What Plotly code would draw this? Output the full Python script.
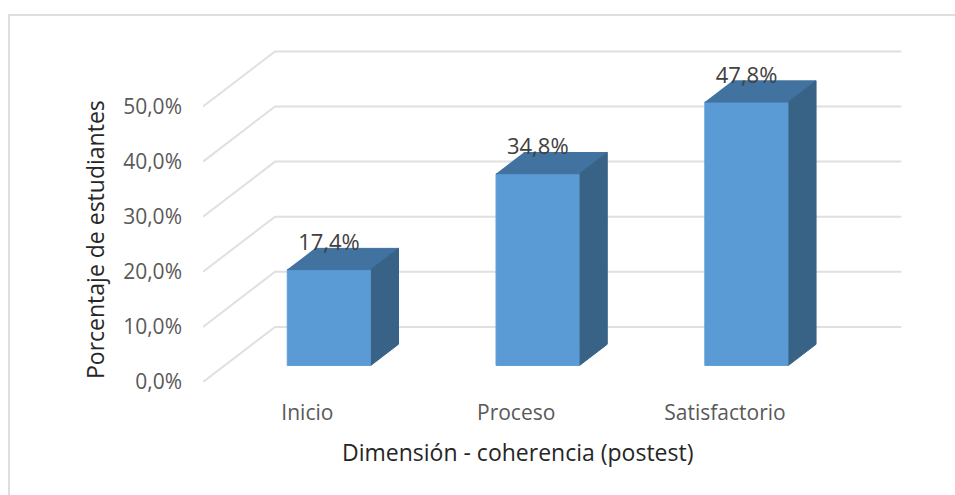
import plotly.graph_objects as go

categorias = ["Inicio", "Proceso", "Satisfactorio"]
valores = [17.4, 34.8, 47.8]
etiquetas = ["17,4%", "34,8%", "47,8%"]
ticks_y = [0, 10, 20, 30, 40, 50]
ticks_y_txt = ["0,0%", "10,0%", "20,0%", "30,0%", "40,0%", "50,0%"]

FONT = "Open Sans"
W, H = 955, 495
# fake 3D: going one full depth back shifts a point right and up
DEPTH_X = 0.345   # category units
DEPTH_Y = 10.0    # percent units
BAR_W = 0.4
D_FRONT, D_BACK = 0.30, 0.685


def project(x, v, d):
    return x + d * DEPTH_X, v + d * DEPTH_Y


fig = go.Figure()

# front faces
pos = list(range(len(categorias)))
fig.add_trace(go.Bar(
    x=[project(i, 0, D_FRONT)[0] for i in pos],
    y=valores,
    base=D_FRONT * DEPTH_Y,
    width=BAR_W,
    marker=dict(color="#5B9BD5", line=dict(color="#5F9FD8", width=1)),
    hoverinfo="skip",
))

# top and side faces
for i, v in zip(pos, valores):
    left, right = i - BAR_W / 2, i + BAR_W / 2
    top = [project(left, v, D_FRONT), project(right, v, D_FRONT),
           project(right, v, D_BACK), project(left, v, D_BACK)]
    side = [project(right, 0, D_FRONT), project(right, 0, D_BACK),
            project(right, v, D_BACK), project(right, v, D_FRONT)]
    for face, color in ((top, "#42729F"), (side, "#386387")):
        fig.add_trace(go.Scatter(
            x=[p[0] for p in face], y=[p[1] for p in face],
            mode="lines", fill="toself", fillcolor=color,
            line=dict(color=color, width=1), hoverinfo="skip",
        ))

# data labels
fig.add_trace(go.Scatter(
    x=[project(i, 0, D_FRONT)[0] for i in pos],
    y=[project(0, v, D_FRONT)[1] + 4.5 for v in valores],
    mode="text", text=etiquetas, textposition="middle center",
    textfont=dict(family=FONT, size=22, color="#404040"),
    hoverinfo="skip",
))

# gridlines on floor + back wall, below the bars
x0, x1 = -0.5, len(categorias) - 0.5
for v in ticks_y:
    xb, yb = project(x0, v, 1)
    xe, _ = project(x1, v, 1)
    fig.add_shape(type="path", layer="below", xref="x", yref="y",
                  path=f"M {x0} {v} L {xb} {yb} L {xe} {yb}",
                  line=dict(color="#E0E0E0", width=2))

# outer chart frame, open on the right and bottom
fig.add_shape(type="path", xref="paper", yref="paper",
              path=f"M {9 / W} 0 L {9 / W} {1 - 15 / H} L 1 {1 - 15 / H}",
              line=dict(color="#DEDEDE", width=2))

fig.add_annotation(text="Porcentaje de estudiantes", xref="paper", yref="paper",
                   x=95 / W, y=1 - 240 / H, textangle=-90, showarrow=False,
                   xanchor="center", yanchor="middle",
                   font=dict(family=FONT, size=23, color="#262626"))
fig.add_annotation(text="Dimensión - coherencia (postest)", xref="paper", yref="paper",
                   x=517 / W, y=1 - 452 / H, showarrow=False,
                   xanchor="center", yanchor="middle",
                   font=dict(family=FONT, size=23, color="#262626"))

fig.update_layout(
    width=W, height=H,
    margin=dict(l=0, r=0, t=0, b=0),
    paper_bgcolor="white", plot_bgcolor="white",
    showlegend=False,
    xaxis=dict(domain=[203 / W, 902 / W], range=[-0.5, 2.848], automargin=False,
               tickmode="array", tickvals=pos, ticktext=categorias,
               showgrid=False, zeroline=False, showline=False, ticks="",
               ticklabelstandoff=16,
               tickfont=dict(family=FONT, size=21, color="#595959")),
    yaxis=dict(domain=[1 - 382 / H, 1 - 50 / H], range=[0, 60.25], automargin=False,
               tickmode="array", tickvals=ticks_y, ticktext=ticks_y_txt,
               showgrid=False, zeroline=False, showline=False, ticks="",
               ticklabelstandoff=20,
               tickfont=dict(family=FONT, size=21, color="#595959")),
)

fig.write_html("out.html", post_script="document.body.style.margin='0';",
               config={"displayModeBar": False})
